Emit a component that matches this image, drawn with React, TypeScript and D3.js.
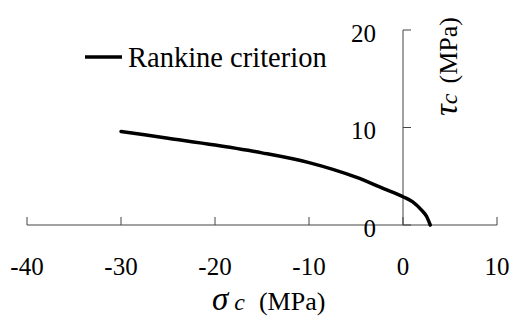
import React from "react";
import * as d3 from "d3";

const sigma = [-30, -25, -20, -15, -10, -5, -2, 0, 1, 2, 2.5, 2.9];
const tau = [9.6, 8.9, 8.2, 7.4, 6.4, 4.9, 3.7, 2.9, 2.4, 1.5, 0.9, 0];
const xTicks = [-40, -30, -20, -10, 0, 10];
const yTicks = [0, 10, 20];
const legendLabel = "Rankine criterion";

const W = 511;
const H = 321;
const FONT = '"Liberation Serif", "DejaVu Serif", serif';

export default function App() {
  const x = d3.scaleLinear().domain([-40, 10]).range([27, 497]);
  const y = d3.scaleLinear().domain([0, 20]).range([225, 30]);
  const pts = sigma.map((s, i) => [s, tau[i]] as [number, number]);
  const line = d3
    .line<[number, number]>()
    .x((d) => x(d[0]))
    .y((d) => y(d[1]))
    .curve(d3.curveMonotoneX);
  const axisColor = "#444";
  const ts = { fontFamily: FONT };
  return (
    <svg
      width={W}
      height={H}
      style={{ position: "absolute", left: 0, top: 0, background: "#fff", fontFamily: FONT }}
    >
      <rect width={W} height={H} fill="#fff" />
      {/* x axis */}
      <line x1={x(-40)} x2={x(10)} y1={y(0)} y2={y(0)} stroke={axisColor} strokeWidth={1} />
      {xTicks.map((t) => (
        <g key={"xt" + t}>
          <line x1={x(t)} x2={x(t)} y1={y(0)} y2={y(0) - 8} stroke={axisColor} strokeWidth={1} />
          <text x={x(t)} y={275} textAnchor="middle" fontSize={25} fill="#000" style={ts}>
            {t}
          </text>
        </g>
      ))}
      {/* y axis */}
      <line x1={x(0)} x2={x(0)} y1={y(0)} y2={y(20)} stroke={axisColor} strokeWidth={1} />
      {yTicks.map((t) => (
        <g key={"yt" + t}>
          <line x1={x(0)} x2={x(0) + 8} y1={y(t)} y2={y(t)} stroke={axisColor} strokeWidth={1} />
          <text x={x(0) - 27} y={y(t) + 11.5} textAnchor="end" fontSize={25} fill="#000" style={ts}>
            {t}
          </text>
        </g>
      ))}
      {/* curve */}
      <path d={line(pts) || ""} fill="none" stroke="#000" strokeWidth={3.5} strokeLinejoin="round" strokeLinecap="round" />
      {/* legend */}
      <line x1={85} x2={122} y1={57} y2={57} stroke="#000" strokeWidth={3.5} />
      <text x={128} y={67} fontSize={28.5} fill="#000" style={ts}>
        {legendLabel}
      </text>
      {/* x title */}
      <text x={212} y={310} fill="#000" style={ts}>
        <tspan fontSize={33} fontStyle="italic">σ</tspan>
        <tspan fontSize={24} fontStyle="italic" dx={6}>c</tspan>
        <tspan fontSize={26} dx={14}>(MPa)</tspan>
      </text>
      {/* y title */}
      <text transform="translate(457,116) rotate(-90)" fill="#000" style={ts}>
        <tspan fontSize={33} fontStyle="italic">τ</tspan>
        <tspan fontSize={24} fontStyle="italic">c</tspan>
        <tspan fontSize={26} dx={10}>(MPa)</tspan>
      </text>
    </svg>
  );
}
